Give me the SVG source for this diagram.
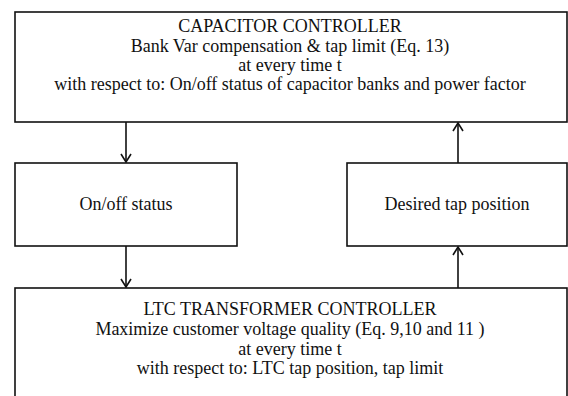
<svg xmlns="http://www.w3.org/2000/svg" width="568" height="396" viewBox="0 0 568 396">
<defs>
<style>
.box{fill:#fff;stroke:#111;stroke-width:1.6}
.t{font-family:"Liberation Serif","Times New Roman",serif;font-size:18px;fill:#111;text-anchor:middle}
.c{fill:none;stroke:#111;stroke-width:1.6}
</style>
<marker id="ah" viewBox="0 0 12 12" refX="11" refY="6" markerWidth="12" markerHeight="12" markerUnits="userSpaceOnUse" orient="auto">
<path d="M3,1 L11,6 L3,11" fill="none" stroke="#111" stroke-width="1.6"/>
</marker>
</defs>
<rect width="568" height="396" fill="#fff"/>
<g id="capacitor-controller">
<rect class="box" x="15" y="12" width="552" height="110"/>
<text class="t" x="290" y="32">CAPACITOR CONTROLLER</text>
<text class="t" x="290" y="52">Bank Var compensation &amp; tap limit (Eq. 13)</text>
<text class="t" x="290" y="71">at every time t</text>
<text class="t" x="290" y="90">with respect to: On/off status of capacitor banks and power factor</text>
</g>
<g id="onoff-status">
<rect class="box" x="15" y="163" width="222" height="83"/>
<text class="t" x="126" y="210">On/off status</text>
</g>
<g id="desired-tap">
<rect class="box" x="347" y="163" width="220" height="83"/>
<text class="t" x="457" y="210">Desired tap position</text>
</g>
<g id="ltc-controller">
<rect class="box" x="15" y="288" width="552" height="120"/>
<text class="t" x="290" y="315">LTC TRANSFORMER CONTROLLER</text>
<text class="t" x="290" y="335">Maximize customer voltage quality (Eq. 9,10 and 11 )</text>
<text class="t" x="290" y="355">at every time t</text>
<text class="t" x="290" y="374">with respect to: LTC tap position, tap limit</text>
</g>
<g id="connectors">
<line class="c" x1="126" y1="122" x2="126" y2="162" marker-end="url(#ah)"/>
<line class="c" x1="126" y1="246" x2="126" y2="287" marker-end="url(#ah)"/>
<line class="c" x1="458" y1="288" x2="458" y2="247" marker-end="url(#ah)"/>
<line class="c" x1="458" y1="163" x2="458" y2="123" marker-end="url(#ah)"/>
</g>
</svg>
